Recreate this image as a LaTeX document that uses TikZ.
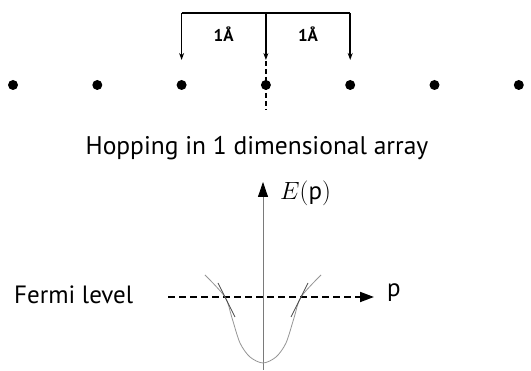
\documentclass[tikz,border=0pt]{standalone}
\usepackage{fontspec}
\setsansfont{PT Sans}
\usetikzlibrary{arrows.meta}
\begin{document}
\begin{tikzpicture}[x=1pt,y=1pt,font=\sffamily\fontsize{25}{29}\selectfont,
    atom/.style={circle,fill=black,inner sep=0pt,minimum size=10pt},
    hop/.style={line width=1.6pt,-{Stealth[length=7pt,width=5pt]}},
    axisline/.style={line width=0.8pt,draw=curvegray,-{Triangle[length=15pt,width=10pt,color=black,fill=black]}},
    band/.style={line width=0.8pt,draw=curvegray!80}]
  \definecolor{curvegray}{HTML}{7A7A7A}
  \path[use as bounding box] (0,0) rectangle (531,371);
  \foreach \i/\x in {1/13,2/97.3,3/181.6,4/265.9,5/350.2,6/434.5,7/518.8}{
    \node[atom] (d\i) at (\x,286) {};
  }
  \coordinate (bar) at (0,358);
  \coordinate (tip) at (0,311);
  \draw[line width=1.6pt] (d3|-bar) -- (d5|-bar);
  \foreach \i in {3,4,5}{
    \draw[hop] (d\i|-bar) -- (d\i|-tip);
  }
  \node[font=\sffamily\bfseries\fontsize{17}{20}\selectfont] (sa) at (223.7,337) {1Å};
  \node[font=\sffamily\bfseries\fontsize{17}{20}\selectfont] (sb) at (308,337) {1Å};
  \draw[line width=1.6pt,dash pattern=on 5pt off 3pt] ([yshift=24pt]d4.center) -- ([yshift=-25pt]d4.center);
  \node[font=\sffamily\fontsize{25.5}{30}\selectfont] (hopping) at (257,223) {Hopping in 1 dimensional array};
  \coordinate (o) at (263,74);
  \coordinate (ebot) at (263,1);
  \coordinate (etop) at (263,189);
  \node[anchor=west,inner sep=0pt] (elab) at (280,178) {$E(\mathsf{p})$};
  \draw[axisline] (ebot) -- (etop);
  \node[anchor=west,inner sep=0pt] (fermi) at (14,76) {Fermi level};
  \node[anchor=west,inner sep=0pt] (plab) at (387,78) {p};
  \coordinate (fstart) at (168,74);
  \coordinate (fend) at (374,74);
  \draw[line width=1.8pt,dash pattern=on 7pt off 4pt,-{Triangle[length=14pt,width=10pt]}] (fstart) -- (fend);
  \draw[band] plot[smooth] coordinates {(205,96) (225,74) (232,53) (240,28) (250,14) (263,8) (276,14) (286,28) (294,53) (301,74) (321,96)};
  \draw[band,draw=curvegray!60!black] (218,88) -- (235,54);
  \draw[band,draw=curvegray!60!black] (291,54) -- (308,88);
\end{tikzpicture}
\end{document}
